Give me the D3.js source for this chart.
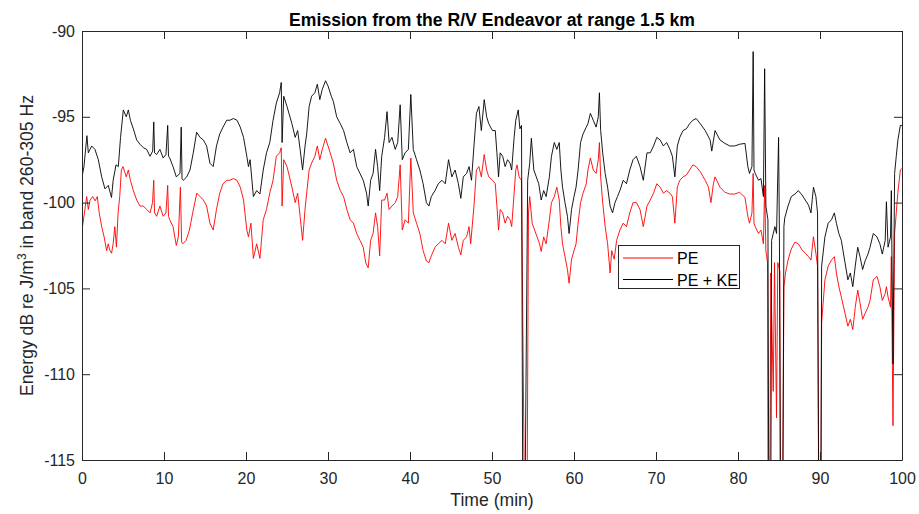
<!DOCTYPE html>
<html>
<head>
<meta charset="utf-8">
<script src="https://cdn.jsdelivr.net/npm/d3@7"></script>
<style>
  html, body { margin: 0; padding: 0; background: #fff; }
  svg { display: block; font-family: "Liberation Sans", Arial, Helvetica, sans-serif; }
</style>
</head>
<body>
<svg id="chart" width="919" height="514"></svg>
<script>
// ---------------- DATA ----------------
const xTicks = [0, 10, 20, 30, 40, 50, 60, 70, 80, 90, 100];
const yTicks = [-115, -110, -105, -100, -95, -90];
const seriesNames = ["PE", "PE + KE"];

// PE + KE (black)
const timeKE = [0,0.24,0.6,0.77,1.18,1.58,1.99,2.4,2.8,3.2,3.6,3.8,4.15,4.43,4.7,5.04,5.4,5.65,5.9,6.26,6.67,7.07,7.48,7.89,8.3,8.62,8.75,8.85,9.1,9.5,9.9,10.24,10.45,10.55,10.7,11.1,11.5,11.95,12.1,12.2,12.35,12.77,13.17,13.57,13.98,14.4,14.8,15.2,15.6,16.0,16.4,16.8,17.2,17.65,18.05,18.45,18.9,19.3,19.7,20.1,20.3,20.5,20.9,21.3,21.7,22.1,22.5,22.9,23.3,23.7,24.1,24.3,24.4,24.6,25.0,25.6,26.0,26.3,26.6,26.9,27.2,27.4,27.7,28.0,28.4,28.7,29.0,29.3,29.7,30.0,30.4,30.65,31.06,31.5,31.9,32.3,32.7,33.1,33.5,33.9,34.3,34.7,34.9,35.2,35.5,35.8,36.05,36.3,36.55,36.9,37.2,37.45,37.8,38.2,38.5,38.8,39.06,39.4,39.8,40.1,40.4,40.8,41.2,41.6,42.0,42.3,42.6,43.05,43.45,43.9,44.3,44.7,45.1,45.5,45.9,46.2,46.5,46.9,47.2,47.5,47.8,48.1,48.4,48.7,49.05,49.35,49.6,50.05,50.4,50.6,50.8,51.0,51.3,51.6,51.9,52.2,52.4,52.7,52.9,53.2,53.4,53.6,53.8,53.9,54.35,54.6,54.8,55.1,55.4,55.7,56.0,56.3,56.6,57.0,57.25,57.6,57.9,58.2,58.4,58.6,58.9,59.2,59.4,59.7,60.0,60.25,60.5,60.8,61.1,61.5,61.7,62.0,62.35,62.7,62.96,63.1,63.25,63.5,63.8,64.1,64.4,64.7,65.0,65.3,65.6,66.0,66.4,66.8,67.2,67.6,68.05,68.45,68.9,69.3,69.7,70.1,70.5,70.9,71.3,71.7,72.0,72.3,72.6,72.9,73.3,73.7,74.1,74.5,74.9,75.4,76.0,76.6,76.8,77.2,77.8,78.4,79.0,79.6,80.2,80.85,81.2,81.4,81.7,81.85,81.95,82.1,82.5,82.8,83.1,83.25,83.4,83.65,83.8,83.95,84.1,84.5,84.7,84.95,85.05,85.25,85.4,85.6,85.7,86.1,86.5,86.95,87.35,87.8,88.2,88.6,88.9,89.2,89.5,89.7,89.9,90.05,90.2,90.6,91.0,91.4,91.75,92.0,92.3,92.6,93.05,93.4,93.7,94.0,94.3,94.6,94.9,95.2,95.5,95.85,96.1,96.5,96.95,97.3,97.6,97.95,98.1,98.3,98.6,98.7,98.9,99.1,99.3,99.5,99.8,100];
const valueKE = [-98.5,-97.9,-96.1,-97.1,-96.7,-96.9,-97.5,-98.5,-99.2,-99.0,-99.7,-98.7,-97.8,-97.9,-96.2,-94.6,-95.0,-94.6,-95.2,-95.7,-96.35,-96.6,-96.8,-96.9,-97.3,-97.0,-95.3,-97.1,-97.2,-96.9,-97.4,-97.2,-95.5,-97.3,-97.4,-97.9,-98.5,-98.3,-95.6,-98.6,-98.7,-98.5,-98.1,-97.1,-95.9,-96.2,-96.35,-96.7,-97.7,-97.9,-96.7,-96.0,-95.6,-95.2,-95.2,-95.1,-95.2,-95.6,-96.2,-97.3,-97.9,-97.5,-99.65,-99.3,-99.5,-98.1,-97.1,-96.5,-95.2,-94.2,-93.6,-93.0,-96.5,-93.8,-94.4,-95.4,-96.2,-95.8,-96.9,-98.1,-96.7,-96.0,-94.4,-93.8,-93.6,-93.1,-94.0,-93.4,-92.9,-93.2,-93.8,-94.1,-95.0,-95.4,-95.8,-96.5,-97.1,-96.9,-97.9,-98.3,-98.7,-99.45,-100.2,-98.7,-98.3,-96.9,-97.9,-99.3,-97.3,-96.2,-94.7,-96.5,-96.2,-96.9,-96.5,-94.3,-97.5,-97.1,-96.9,-93.7,-96.9,-97.5,-98.1,-98.9,-100.0,-100.2,-99.65,-99.3,-98.9,-98.7,-98.9,-97.5,-98.5,-98.1,-98.9,-99.75,-98.5,-98.3,-97.9,-98.7,-96.7,-94.8,-94.4,-95.8,-94.0,-95.0,-95.4,-95.8,-95.8,-97.1,-98.5,-97.1,-97.3,-97.9,-97.5,-97.7,-98.1,-96.2,-95.2,-94.6,-95.7,-95.5,-125,-125,-98.7,-97.7,-96.25,-98.1,-98.5,-98.9,-99.85,-99.3,-99.65,-98.5,-97.3,-96.5,-96.9,-96.5,-98.1,-99.1,-100.0,-100.8,-101.8,-100.4,-99.65,-99.1,-98.1,-96.5,-96.0,-95.6,-95.4,-94.8,-95.2,-95.6,-95.0,-93.6,-95.8,-97.1,-98.3,-99.1,-100.2,-100.6,-100.0,-99.65,-99.3,-98.7,-98.9,-98.1,-97.5,-97.3,-97.9,-98.7,-97.1,-97.1,-96.7,-96.2,-96.35,-96.7,-96.5,-96.9,-97.3,-98.5,-96.7,-96.2,-95.8,-95.7,-95.4,-95.2,-95.1,-95.4,-95.8,-96.35,-97.0,-95.8,-96.35,-96.55,-96.7,-96.7,-96.6,-96.55,-97.9,-98.3,-97.9,-91.2,-98.1,-98.3,-98.7,-98.6,-99.65,-92.2,-100.2,-101.0,-125,-125,-102.2,-101.4,-101.8,-96.2,-101.9,-125,-125,-101.4,-100.9,-100.2,-99.65,-99.5,-99.3,-99.55,-99.85,-100.15,-100.6,-99.1,-99.65,-100.6,-125,-125,-103.7,-102.0,-101.2,-101.0,-100.6,-101.2,-101.8,-102.2,-103.5,-104.5,-104.1,-104.9,-103.7,-102.6,-103.2,-103.9,-103.4,-103.0,-102.6,-101.8,-102.0,-102.4,-103.0,-102.2,-99.95,-102.6,-102.0,-99.3,-109.4,-98.3,-97.3,-96.35,-95.5,-95.5];

// PE (red)
const timePE = [0,0.24,0.57,0.77,0.98,1.3,1.6,1.87,2.1,2.4,2.7,3.0,3.2,3.4,3.6,3.8,4.0,4.2,4.4,4.6,4.8,5.0,5.4,5.65,5.9,6.26,6.67,7.07,7.48,7.89,8.3,8.6,8.75,8.85,9.1,9.5,9.9,10.24,10.45,10.55,10.7,11.1,11.5,11.75,12.0,12.15,12.3,12.7,13.1,13.5,14.0,14.4,14.8,15.2,15.6,16.0,16.4,16.8,17.2,17.65,18.05,18.45,18.9,19.3,19.7,20.1,20.3,20.6,20.9,21.3,21.7,22.1,22.5,22.9,23.3,23.7,24.1,24.3,24.4,24.6,25.0,25.6,26.0,26.3,26.6,26.9,27.2,27.4,27.7,28.0,28.4,28.7,29.0,29.3,29.7,30.0,30.4,30.65,31.06,31.5,31.9,32.3,32.7,33.1,33.5,33.9,34.3,34.6,34.9,35.2,35.5,35.8,36.05,36.3,36.55,36.9,37.2,37.45,37.8,38.2,38.5,38.8,39.06,39.4,39.8,40.1,40.4,40.8,41.2,41.6,42.0,42.3,42.6,43.05,43.45,43.9,44.3,44.7,45.1,45.5,45.9,46.2,46.5,46.9,47.2,47.4,47.8,48.1,48.4,48.7,49.05,49.35,49.6,50.05,50.4,50.6,50.8,51.0,51.3,51.6,51.9,52.2,52.4,52.7,52.9,53.05,53.3,53.6,54.1,54.2,54.45,54.6,54.9,55.2,55.5,55.8,56.0,56.3,56.6,57.0,57.25,57.6,57.9,58.2,58.4,58.6,58.9,59.2,59.4,59.7,60.0,60.25,60.5,60.8,61.1,61.5,61.7,62.0,62.35,62.7,62.96,63.1,63.25,63.5,63.8,64.1,64.4,64.6,64.9,65.2,65.6,66.0,66.4,66.8,67.2,67.6,68.05,68.45,68.9,69.3,69.7,70.1,70.5,70.9,71.3,71.7,72.0,72.3,72.6,72.9,73.3,73.7,74.1,74.5,74.9,75.4,76.0,76.4,76.7,77.0,77.2,77.8,78.4,79.0,79.6,80.2,80.85,81.2,81.4,81.7,81.85,81.95,82.1,82.5,82.8,83.1,83.25,83.4,83.6,83.7,83.8,84.0,84.3,84.45,84.7,84.85,85.1,85.2,85.35,85.6,85.8,86.1,86.5,86.95,87.35,87.8,88.2,88.6,88.9,89.2,89.5,89.7,89.95,90.05,90.2,90.6,91.0,91.4,91.75,92.0,92.3,92.6,93.05,93.4,93.7,94.0,94.3,94.6,94.9,95.2,95.5,95.85,96.1,96.5,96.95,97.3,97.6,97.95,98.1,98.3,98.6,98.7,98.9,99.1,99.3,99.5,99.8,100];
const valuePE = [-101.6,-100.8,-99.65,-100.4,-99.85,-99.65,-99.9,-99.65,-100.6,-101.4,-102.0,-102.8,-102.4,-102.8,-102.95,-102.4,-101.4,-102.6,-100.6,-99.65,-98.1,-97.9,-98.5,-98.1,-98.7,-99.3,-99.85,-100.2,-100.2,-100.4,-100.6,-100.0,-98.7,-100.6,-100.8,-100.2,-100.8,-100.6,-99.0,-100.8,-101.0,-101.4,-102.5,-102.0,-99.1,-102.3,-102.4,-102.2,-101.6,-100.6,-99.45,-99.65,-99.85,-100.2,-101.2,-101.6,-100.4,-99.45,-98.9,-98.7,-98.7,-98.6,-98.7,-99.1,-99.85,-101.6,-102.0,-101.2,-103.25,-102.4,-103.25,-101.0,-100.4,-99.45,-98.7,-97.3,-97.1,-96.8,-100.2,-97.5,-97.9,-99.1,-100.0,-99.45,-100.8,-102.2,-100.4,-99.45,-98.1,-97.7,-97.3,-96.7,-97.5,-96.9,-96.25,-96.7,-97.3,-97.7,-98.7,-99.3,-99.65,-100.4,-101.0,-101.2,-101.8,-102.2,-102.6,-103.5,-103.8,-102.2,-101.8,-100.6,-101.4,-103.1,-99.85,-99.85,-99.45,-100.4,-100.2,-100.0,-99.65,-97.8,-101.6,-101.0,-101.2,-97.4,-100.6,-101.2,-101.8,-102.8,-103.4,-103.5,-103.1,-102.6,-102.4,-102.2,-102.4,-101.2,-102.2,-101.8,-102.6,-103.05,-102.2,-102.0,-101.4,-102.4,-100.2,-98.1,-97.9,-98.5,-97.2,-98.1,-98.5,-98.7,-98.9,-100.2,-101.6,-100.4,-100.6,-101.2,-100.8,-101.0,-101.4,-99.45,-98.1,-97.8,-98.5,-98.7,-125,-125,-100.6,-99.65,-101.2,-101.6,-102.0,-102.4,-102.85,-102.0,-102.4,-101.0,-100.0,-99.65,-99.1,-99.85,-101.4,-102.4,-103.15,-103.9,-104.7,-103.3,-102.8,-102.4,-101.2,-100.0,-99.45,-98.9,-98.1,-97.4,-98.1,-98.3,-97.5,-96.5,-98.5,-100.0,-101.4,-102.4,-104.1,-102.8,-103.3,-102.2,-101.6,-101.2,-101.4,-100.6,-100.0,-100.0,-100.4,-101.4,-100.2,-99.85,-99.45,-98.9,-99.1,-99.45,-99.3,-99.45,-99.65,-101.2,-99.1,-98.7,-98.5,-98.4,-98.1,-97.8,-97.9,-98.2,-98.7,-99.1,-100.0,-98.9,-98.5,-99.1,-99.4,-99.5,-99.5,-99.4,-99.7,-100.8,-101.2,-100.6,-98.3,-101.2,-101.4,-101.8,-101.6,-102.4,-99.0,-102.8,-103.5,-125,-125,-104.1,-111.0,-103.5,-112.55,-103.5,-104.0,-125,-125,-104.9,-104.1,-103.35,-102.7,-102.3,-102.4,-102.75,-102.95,-103.15,-103.35,-101.99,-102.95,-103.7,-125,-125,-107.0,-104.5,-103.7,-103.35,-103.15,-104.1,-104.9,-105.5,-106.45,-107.2,-106.8,-107.4,-106.1,-105.1,-105.9,-106.8,-106.45,-106.1,-105.7,-104.5,-104.3,-104.9,-105.7,-105.3,-104.9,-105.5,-106.1,-103.15,-113.0,-101.8,-100.6,-99.4,-98.1,-98.0];

// ---------------- CHART ----------------
const plot = { left: 82, right: 902, top: 31, bottom: 460 };
const axisColor = "#262626";

const svg = d3.select("#chart");
const x = d3.scaleLinear().domain([0, 100]).range([plot.left, plot.right]);
const y = d3.scaleLinear().domain([-115, -90]).range([plot.bottom, plot.top]);

svg.append("defs").append("clipPath").attr("id", "clip")
  .append("rect")
  .attr("x", plot.left).attr("y", plot.top)
  .attr("width", plot.right - plot.left).attr("height", plot.bottom - plot.top);

const line = d3.line().x(d => x(d[0])).y(d => y(d[1]));
const dataPE = timePE.map((t, i) => [t, valuePE[i]]);
const dataKE = timeKE.map((t, i) => [t, valueKE[i]]);

const lines = svg.append("g").attr("clip-path", "url(#clip)");
lines.append("path").datum(dataPE).attr("d", line)
  .attr("fill", "none").attr("stroke", "#ff0000").attr("stroke-width", 0.9)
  .attr("stroke-linejoin", "round");
lines.append("path").datum(dataKE).attr("d", line)
  .attr("fill", "none").attr("stroke", "#000000").attr("stroke-width", 0.9)
  .attr("stroke-linejoin", "round");

// axes
const tickLen = 8;
const fmt = d => String(d);
function styleAxis(g) {
  g.select(".domain").attr("stroke", axisColor).attr("stroke-width", 1);
  g.selectAll(".tick line").attr("stroke", axisColor).attr("stroke-width", 1);
  g.selectAll(".tick text").attr("fill", axisColor).style("font-size", "16px")
    .style("font-family", "'Liberation Sans', Arial, sans-serif");
}
svg.append("g").attr("transform", `translate(0,${plot.bottom})`)
  .call(d3.axisBottom(x).tickValues(xTicks).tickSize(-tickLen).tickPadding(13).tickSizeOuter(0).tickFormat(fmt))
  .call(styleAxis);
svg.append("g").attr("transform", `translate(0,${plot.top})`)
  .call(d3.axisTop(x).tickValues(xTicks).tickSize(-tickLen).tickSizeOuter(0).tickFormat(""))
  .call(styleAxis);
svg.append("g").attr("transform", `translate(${plot.left},0)`)
  .call(d3.axisLeft(y).tickValues(yTicks).tickSize(-tickLen).tickPadding(7).tickSizeOuter(0).tickFormat(fmt))
  .call(styleAxis);
svg.append("g").attr("transform", `translate(${plot.right},0)`)
  .call(d3.axisRight(y).tickValues(yTicks).tickSize(-tickLen).tickSizeOuter(0).tickFormat(""))
  .call(styleAxis);

// title
svg.append("text").attr("x", (plot.left + plot.right) / 2).attr("y", 26)
  .attr("text-anchor", "middle").attr("font-weight", "bold")
  .style("font-size", "17.6px").attr("fill", "#000")
  .text("Emission from the R/V Endeavor at range 1.5 km");

// x label
svg.append("text").attr("x", (plot.left + plot.right) / 2).attr("y", 506)
  .attr("text-anchor", "middle").style("font-size", "17.6px").attr("fill", axisColor)
  .text("Time (min)");

// y label
const yl = svg.append("text")
  .attr("transform", `translate(33,${(plot.top + plot.bottom) / 2}) rotate(-90)`)
  .attr("text-anchor", "middle").style("font-size", "17.6px").attr("fill", axisColor);
yl.append("tspan").text("Energy dB re J/m");
yl.append("tspan").attr("baseline-shift", "super").style("font-size", "12px").text("3");
yl.append("tspan").text(" in band 260-305 Hz");

// legend
const lg = svg.append("g");
lg.append("rect").attr("x", 618.5).attr("y", 245.5).attr("width", 121).attr("height", 43)
  .attr("fill", "#fff").attr("stroke", axisColor).attr("stroke-width", 1);
const legColors = ["#ff0000", "#000000"];
seriesNames.forEach((name, i) => {
  const ly = 258 + i * 21.5;
  lg.append("line").attr("x1", 623).attr("x2", 673).attr("y1", ly).attr("y2", ly)
    .attr("stroke", legColors[i]).attr("stroke-width", 1);
  lg.append("text").attr("x", 677).attr("y", ly + 6).style("font-size", "16px")
    .attr("fill", "#000").text(name);
});
</script>
</body>
</html>
